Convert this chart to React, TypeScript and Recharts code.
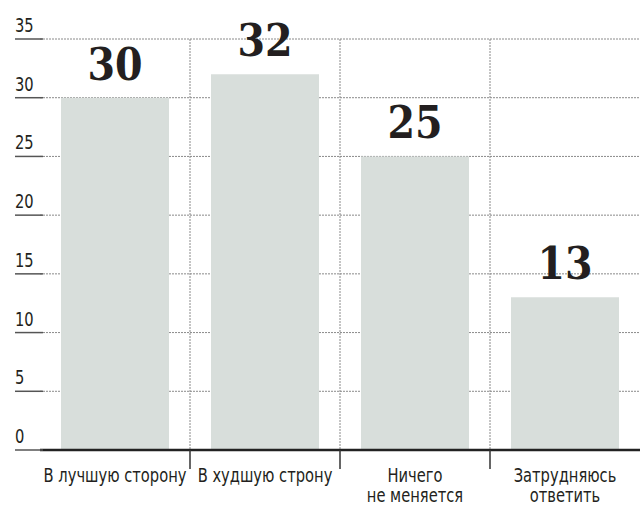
import React from "react";
import { BarChart, Bar, XAxis, YAxis, CartesianGrid, LabelList } from "recharts";

const categories = ["В лучшую сторону", "В худшую строну", "Ничего\nне меняется", "Затрудняюсь\nответить"];
const values = [30, 32, 25, 13];
const yTicks = [0, 5, 10, 15, 20, 25, 30, 35];

const data = categories.map((c, i) => ({ name: c, value: values[i] }));

const SANS = "'DejaVu Sans Condensed', 'DejaVu Sans', sans-serif";
const SERIF = "'DejaVu Serif Condensed', 'DejaVu Serif', serif";
const TEXT = "#231f20";
const SQUEEZE = 0.86;

const squeeze = (cx: number) => `translate(${cx},0) scale(${SQUEEZE},1) translate(${-cx},0)`;

const YTick = (props: any) => {
  const { x, y, payload } = props;
  const tx = x - 25;
  return (
    <g>
      <line x1={x - 25} x2={x + 3} y1={y} y2={y} stroke="#555" strokeWidth={1.5} />
      <text x={tx} y={y - 7} fontFamily={SANS} fontSize={19} fill={TEXT} textAnchor="start" transform={squeeze(tx)}>
        {payload.value}
      </text>
    </g>
  );
};

const XTick = (props: any) => {
  const { x, y, payload, index } = props;
  const lines = String(payload.value).split("\n");
  const off = payload.offset ?? 75;
  return (
    <g>
      {index < categories.length - 1 && (
        <line x1={x + off} x2={x + off} y1={y} y2={y + 19} stroke="#333" strokeWidth={1.5} />
      )}
      {lines.map((l, i) => (
        <text
          key={i}
          x={x}
          y={y + 32 + i * 20}
          fontFamily={SANS}
          fontSize={19}
          fill={TEXT}
          textAnchor="middle"
          transform={squeeze(x)}
        >
          {l}
        </text>
      ))}
    </g>
  );
};

const ValueLabel = (props: any) => {
  const { x, y, width, value } = props;
  return (
    <text
      x={x + width / 2}
      y={y - 18}
      textAnchor="middle"
      fontFamily={SERIF}
      fontWeight="bold"
      fontSize={44}
      style={{ fontStretch: "condensed" }}
      fill={TEXT}
    >
      {value}
    </text>
  );
};

export default function App() {
  return (
    <div style={{ position: "absolute", left: 0, top: 0, background: "#fff" }}>
      <BarChart
        width={643}
        height={507}
        data={data}
        margin={{ top: 39, right: 3, bottom: 0, left: 0 }}
        barCategoryGap="14%"
      >
        <CartesianGrid
          stroke="#8a8a8a"
          strokeDasharray="2 1"
          verticalCoordinatesGenerator={({ offset }: any) => [1, 2, 3].map((i) => offset.left + (offset.width * i) / 4)}
        />
        <YAxis
          domain={[0, 35]}
          ticks={yTicks}
          interval={0}
          width={40}
          axisLine={false}
          tickLine={false}
          tickSize={0}
          tickMargin={0}
          tick={<YTick />}
        />
        <XAxis
          dataKey="name"
          height={57}
          interval={0}
          tickLine={false}
          tickSize={0}
          tickMargin={0}
          axisLine={{ stroke: "#222", strokeWidth: 2.5 }}
          tick={<XTick />}
        />
        <Bar dataKey="value" fill="#d8dedb" isAnimationActive={false}>
          <LabelList dataKey="value" content={<ValueLabel />} />
        </Bar>
      </BarChart>
    </div>
  );
}
